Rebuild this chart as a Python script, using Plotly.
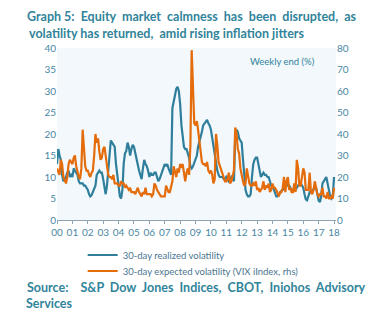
import pandas as pd
import plotly.graph_objects as go

# monthly observations Jan-2000 .. Jan-2018
realized_vol = [
    13, 16.5, 15, 14, 10.5, 9, 9.5, 10, 11, 11.5, 10, 10.5,      # 2000
    10, 12, 11.5, 11, 10.5, 9, 8.5, 8.5, 8.5, 8, 8, 7.5,         # 2001
    7, 6, 5.5, 5.8, 6.5, 7.5, 8, 10.5, 11, 11.5, 11, 11,         # 2002
    9.5, 7, 6, 8, 12, 15.5, 18.5, 18, 17.5, 17, 13, 10,          # 2003
    7, 5.5, 5, 7, 13, 15.5, 16, 18, 17, 15, 16.5, 17.5,          # 2004
    17, 15.5, 14, 13, 11.5, 10.5, 9.5, 12, 14, 13, 12.5, 11.5,   # 2005
    10, 11, 10.5, 10.5, 11, 11, 10, 9, 9.5, 10.5, 11, 12.5,      # 2006
    13, 12.5, 13, 12, 11, 10.5, 26, 28, 29, 30.5, 31, 30,        # 2007
    27, 22, 20, 17, 16.5, 16.5, 15.5, 14.5, 12.5, 12, 12.5, 13.5,  # 2008
    14, 15, 17, 18, 19, 20.5, 22, 22.5, 23, 23.3, 22.5, 22,      # 2009
    21, 19, 17, 16, 13, 11.5, 10.5, 10, 10, 10, 9.5, 9.5,        # 2010
    10, 9.5, 9, 9.5, 10, 9.5, 9, 20, 21, 20.5, 19, 18.5,         # 2011
    18, 14, 10, 7, 6, 5.5, 5.5, 6, 10, 13, 14, 14.5,             # 2012
    14.5, 13, 11, 10, 10.5, 11, 10.5, 10.5, 10, 10, 9, 8,        # 2013
    8, 7, 6.5, 5.5, 5.5, 6, 6.5, 6.8, 7, 7.5, 8.5, 8.5,          # 2014
    8, 8, 7.5, 7, 7, 7, 7, 7.5, 8, 8.5, 8.5, 8,                  # 2015
    7.5, 6, 4.8, 4.6, 5.5, 6.5, 6.5, 6.8, 7, 7.5, 7.5, 6,        # 2016
    4.5, 4.2, 5.5, 8.5, 9, 9.5, 10, 8.5, 7, 5.5, 5, 5.5,         # 2017
    10,                                                           # 2018
]

vix_expected = [
    24, 22, 21, 28, 26, 20, 18, 17, 20, 26, 28, 27,   # 2000
    26, 29, 30, 25, 22, 20, 19, 24, 42, 32, 25, 23,   # 2001
    23, 21, 20, 22, 23, 30, 40, 36, 38, 32, 28, 29,   # 2002
    33, 34, 29, 24, 21, 20, 20, 19, 21, 17, 17, 17,   # 2003
    16, 16, 18, 17, 17, 15, 16, 15, 14, 15, 13, 13,   # 2004
    13, 12, 14, 15, 13, 12, 11, 13, 12, 15, 12, 12,   # 2005
    12, 12, 11, 12, 17, 16, 14, 13, 12, 11, 11, 11,   # 2006
    11, 16, 14, 13, 13, 15, 18, 25, 22, 20, 24, 22,   # 2007
    26, 25, 26, 21, 18, 22, 24, 21, 35, 79, 60, 45,   # 2008
    44, 46, 42, 36, 31, 27, 26, 26, 25, 27, 23, 22,   # 2009
    23, 21, 17, 19, 40, 35, 27, 25, 23, 21, 20, 18,   # 2010
    18, 19, 22, 17, 18, 20, 23, 43, 40, 33, 31, 24,   # 2011
    20, 18, 16, 17, 24, 20, 17, 16, 16, 17, 16, 18,   # 2012
    14, 15, 13, 14, 15, 18, 14, 16, 15, 17, 13, 14,   # 2013
    17, 15, 15, 14, 12, 11, 13, 13, 15, 20, 13, 18,   # 2014
    20, 14, 15, 13, 13, 17, 13, 28, 24, 16, 16, 20,   # 2015
    24, 22, 14, 14, 14, 22, 13, 12, 14, 18, 14, 12,   # 2016
    11, 12, 12, 15, 11, 11, 10, 13, 10, 10, 11, 10,   # 2017
    15,                                               # 2018
]

dates = pd.date_range("2000-01-01", periods=len(realized_vol), freq="MS")
year_ticks = [f"{y}-01-01" for y in range(2000, 2019)]
year_labels = [f"{y % 100:02d}" for y in range(2000, 2019)]

BLUE = "#2F7F9C"
ORANGE = "#E46C0A"
TEAL_TXT = "#31849B"
TICK_TXT = "#4A86A3"
FONT = "Lato"
NB = "\u00a0"

fig = go.Figure()
fig.add_trace(go.Scatter(x=dates, y=realized_vol, name="30-day realized volatility",
                         mode="lines", line=dict(color=BLUE, width=2.2), yaxis="y",
                         legend="legend"))
fig.add_trace(go.Scatter(x=dates, y=vix_expected, name="30-day expected volatility (VIX iIndex, rhs)",
                         mode="lines", line=dict(color=ORANGE, width=2.2), yaxis="y2",
                         legend="legend2"))

leg_common = dict(xanchor="left", yanchor="middle",
                  font=dict(size=9.5, color="#4A7590", family=FONT),
                  bgcolor="rgba(0,0,0,0)", itemwidth=30)

fig.update_layout(
    width=372, height=329,
    margin=dict(l=57, r=36, t=48, b=109),
    paper_bgcolor="white",
    plot_bgcolor="#F3F8FC",
    font=dict(family=FONT, size=10, color=TICK_TXT),
    xaxis=dict(range=["2000-01-01", "2018-02-16"], tickmode="array",
               tickvals=year_ticks, ticktext=year_labels,
               showgrid=False, zeroline=False, showline=True, linecolor="#8FA3B0",
               linewidth=1, ticks="outside", ticklen=3, tickcolor="#8FA3B0",
               tickfont=dict(size=10, color=TICK_TXT)),
    yaxis=dict(range=[0, 40], dtick=5, showgrid=False, zeroline=False, showline=False,
               ticks="", tickfont=dict(size=10, color=TICK_TXT)),
    yaxis2=dict(range=[0, 80], dtick=10, overlaying="y", side="right", showgrid=False,
                zeroline=False, showline=False, ticks="",
                tickfont=dict(size=10, color=TICK_TXT)),
    showlegend=True,
    legend=dict(x=0.092, y=-0.2035, **leg_common),
    legend2=dict(x=0.092, y=-0.2965, **leg_common),
)

title_font = dict(family=FONT, size=12.5, color=TEAL_TXT, weight="bold")
annots = [
    dict(text=f"Graph{NB}5:{NB}{NB}Equity{NB}{NB}market{NB}{NB}calmness{NB}{NB}has{NB}{NB}been{NB}{NB}disrupted,{NB}{NB}as",
         x=-0.115, y=1.186),
    dict(text=f"volatility has returned,{NB}{NB}amid rising inflation jitters", x=-0.108, y=1.087),
    dict(text=f"Source:{NB}{NB}{NB}{NB}S&P{NB}{NB}Dow{NB}{NB}Jones{NB}{NB}Indices,{NB}{NB}CBOT,{NB}{NB}Iniohos{NB}{NB}Advisory",
         x=-0.115, y=-0.395),
    dict(text="Services", x=-0.118, y=-0.483),
]
for a in annots:
    fig.add_annotation(text=a["text"], x=a["x"], y=a["y"], xref="paper", yref="paper",
                       xanchor="left", yanchor="middle", showarrow=False, font=title_font)

fig.add_annotation(text="Weekly end (%)", x=0.685, y=0.919, xref="paper", yref="paper",
                   xanchor="left", yanchor="middle", showarrow=False,
                   font=dict(family=FONT, size=9.5, color=TEAL_TXT))

fig.write_html("out.html")
